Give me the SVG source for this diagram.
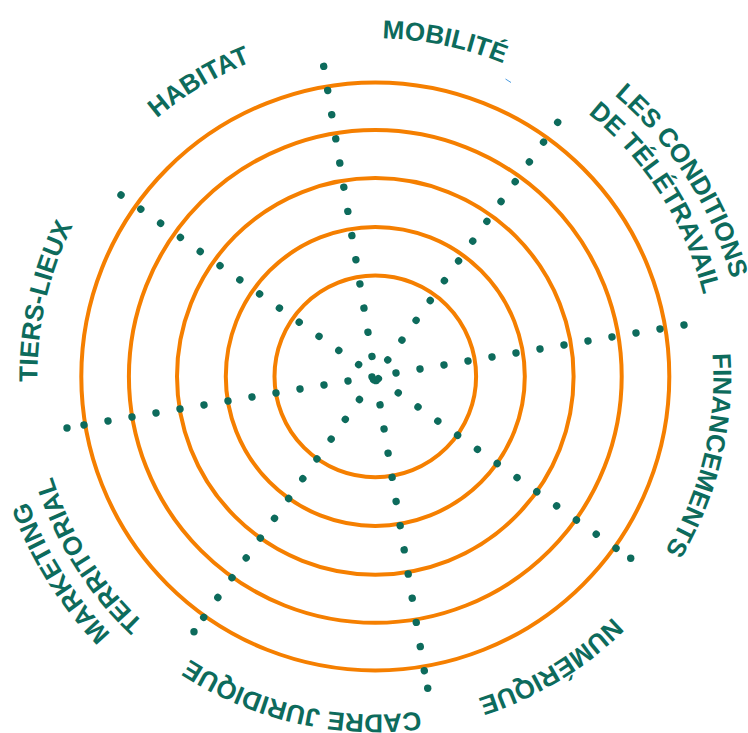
<svg xmlns="http://www.w3.org/2000/svg" xmlns:xlink="http://www.w3.org/1999/xlink" width="748" height="733" viewBox="0 0 748 733">
  <style>
    .ring { fill: none; stroke: #F57F00; stroke-width: 4; }
    .spoke { fill: none; stroke: #0D6B5C; stroke-width: 7.4; stroke-linecap: round; }
    .dot { fill: #0D6B5C; }
    .lbl { font-family: "Liberation Sans", Arial, sans-serif; font-weight: bold; font-size: 26px; fill: #0D6B5C; text-anchor: middle; }
  </style>
  <defs>
    <path id="arcIn" d="M 375.3 38.4 A 338 338 0 1 1 375.3 714.4 A 338 338 0 1 1 375.3 38.4 Z"/>
    <path id="arcOut" d="M 375.3 7.4 A 369 369 0 1 1 375.3 745.4 A 369 369 0 1 1 375.3 7.4 Z"/>
  </defs>
  <rect width="748" height="733" fill="#ffffff"/>

  <g id="rings">
    <circle class="ring" cx="375.3" cy="376.4" r="100.8"/>
    <circle class="ring" cx="375.3" cy="376.4" r="149.5"/>
    <circle class="ring" cx="375.3" cy="376.4" r="198.3"/>
    <circle class="ring" cx="375.3" cy="376.4" r="246.4"/>
    <circle class="ring" cx="375.3" cy="376.4" r="294"/>
  </g>

  <g id="connectors">
    <line class="spoke" x1="323.69" y1="66.31" x2="424.37" y2="671.2" stroke-dasharray="0.01 24.499"/>
    <line class="spoke" x1="684" y1="325" x2="83.52" y2="425.08" stroke-dasharray="0.01 24.321"/>
    <line class="spoke" x1="557.68" y1="122.3" x2="203.4" y2="617.7" stroke-dasharray="0.01 24.332"/>
    <line class="spoke" x1="121" y1="195.01" x2="616.4" y2="548.54" stroke-dasharray="0.01 24.315"/>
    <circle class="dot" cx="427.7" cy="688.3" r="3.7"/>
    <circle class="dot" cx="67" cy="428" r="3.7"/>
    <circle class="dot" cx="194" cy="631.7" r="3.7"/>
    <circle class="dot" cx="630.7" cy="558.3" r="3.7"/>
  </g>

  <g id="label-mobilite">
    <text class="lbl"><textPath href="#arcIn" xlink:href="#arcIn" startOffset="3.264%">MOBILITÉ</textPath></text>
  </g>
  <g id="label-teletravail">
    <text class="lbl"><textPath href="#arcOut" xlink:href="#arcOut" startOffset="15.972%">LES CONDITIONS</textPath></text>
    <text class="lbl"><textPath href="#arcIn" xlink:href="#arcIn" startOffset="15.972%">DE TÉLÉTRAVAIL</textPath></text>
  </g>
  <g id="label-financements">
    <text class="lbl"><textPath href="#arcIn" xlink:href="#arcIn" startOffset="28.778%">FINANCEMENTS</textPath></text>
  </g>
  <g id="label-numerique">
    <text class="lbl"><textPath href="#arcIn" xlink:href="#arcIn" startOffset="41.347%">NUMÉRIQUE</textPath></text>
  </g>
  <g id="label-cadre-juridique">
    <text class="lbl"><textPath href="#arcIn" xlink:href="#arcIn" startOffset="53.556%">CADRE JURIDIQUE</textPath></text>
  </g>
  <g id="label-marketing">
    <text class="lbl"><textPath href="#arcOut" xlink:href="#arcOut" startOffset="66.111%">MARKETING</textPath></text>
    <text class="lbl"><textPath href="#arcIn" xlink:href="#arcIn" startOffset="66.111%">TERRITORIAL</textPath></text>
  </g>
  <g id="label-tiers-lieux">
    <text class="lbl"><textPath href="#arcIn" xlink:href="#arcIn" startOffset="78.556%">TIERS-LIEUX</textPath></text>
  </g>
  <g id="label-habitat">
    <text class="lbl"><textPath href="#arcIn" xlink:href="#arcIn" startOffset="91.417%">HABITAT</textPath></text>
  </g>

  <line x1="505.5" y1="79" x2="511" y2="82.5" stroke="#4A9BE0" stroke-width="1"/>
</svg>
